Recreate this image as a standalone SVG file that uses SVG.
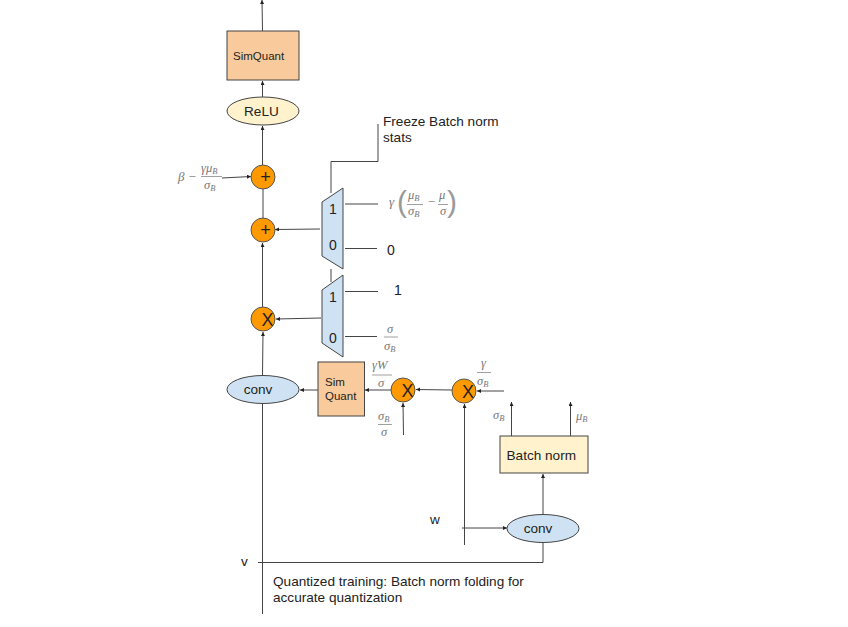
<svg xmlns="http://www.w3.org/2000/svg" width="848" height="627" viewBox="0 0 848 627">
<defs>
<marker id="a" markerWidth="5" markerHeight="5" refX="4" refY="2" orient="auto" markerUnits="userSpaceOnUse"><path d="M0 0L4 2L0 4Z" fill="#222"/></marker>
</defs>
<style>
text{font-family:"Liberation Sans",Arial,sans-serif;fill:#222}
.s{font-size:11.500px}.m{font-size:13.600px}.d{font-size:14px}
.op{font-size:18px}.x{font-size:18px}
.math{font-family:"Liberation Serif","Times New Roman",serif;fill:#777;font-style:italic;font-size:12.500px}
.paren{font-family:"Liberation Sans",sans-serif;fill:#999;font-size:30px}
.sub{font-size:8.500px}
.c line,.c path{fill:none;stroke:#444;stroke-width:1}
.o{fill:#ff9900;stroke:#555;stroke-width:1}
.q{fill:#f9cb9c;stroke:#444;stroke-width:1}
.b{fill:#cfe2f3;stroke:#444;stroke-width:1}
.y{fill:#fff2cc;stroke:#444;stroke-width:1}
.f{stroke:#888;stroke-width:.8}
</style>
<rect width="848" height="627" fill="#fff"/>
<g class="c" id="connectors">
<line x1="262.500" y1="31" x2="262" y2="0" marker-end="url(#a)"/>
<line x1="262.500" y1="97" x2="262.500" y2="81" marker-end="url(#a)"/>
<line x1="262.500" y1="165" x2="262.500" y2="126" marker-end="url(#a)"/>
<line x1="263" y1="218" x2="263" y2="189"/>
<line x1="222" y1="178" x2="251" y2="176.500" marker-end="url(#a)"/>
<line x1="320" y1="229" x2="275" y2="229.500" marker-end="url(#a)"/>
<line x1="262.500" y1="307" x2="262.500" y2="243" marker-end="url(#a)"/>
<line x1="321" y1="318" x2="276" y2="319" marker-end="url(#a)"/>
<line x1="262.500" y1="375" x2="263" y2="332" marker-end="url(#a)"/>
<line x1="262.500" y1="403" x2="262.500" y2="614"/>
<line x1="318" y1="390" x2="300" y2="390" marker-end="url(#a)"/>
<line x1="391" y1="390" x2="365" y2="390" marker-end="url(#a)"/>
<line x1="452" y1="390" x2="416" y2="389.500" marker-end="url(#a)"/>
<line x1="504" y1="391" x2="477" y2="391" marker-end="url(#a)"/>
<line x1="403.500" y1="435" x2="403" y2="403" marker-end="url(#a)"/>
<line x1="464.500" y1="545" x2="464.500" y2="404" marker-end="url(#a)"/>
<line x1="462" y1="528" x2="507" y2="528" marker-end="url(#a)"/>
<line x1="543" y1="514" x2="543" y2="474" marker-end="url(#a)"/>
<path d="M543 542V562.500H258"/>
<line x1="511.500" y1="436" x2="511.500" y2="402" marker-end="url(#a)"/>
<line x1="570.500" y1="436" x2="570.500" y2="402" marker-end="url(#a)"/>
<path d="M331 193V161.500H378V124"/>
<line x1="331" y1="269" x2="331" y2="282"/>
<line x1="345" y1="204" x2="378" y2="204"/>
<line x1="345" y1="248.500" x2="377" y2="248.500"/>
<line x1="345" y1="291.500" x2="378" y2="291.500"/>
<line x1="345" y1="336.500" x2="377" y2="336.500"/>
</g>
<g id="simquant-top"><rect class="q" x="227" y="31" width="72" height="49"/><text class="s" x="233" y="60">SimQuant</text></g>
<g id="relu"><ellipse class="y" cx="263" cy="111" rx="36" ry="14"/><text class="m" x="244" y="116">ReLU</text></g>
<g id="plus-top"><circle class="o" cx="263" cy="177" r="12"/><text class="op" x="265.500" y="183" text-anchor="middle">+</text></g>
<g id="plus-bottom"><circle class="o" cx="263" cy="230" r="12"/><text class="op" x="265.500" y="236" text-anchor="middle">+</text></g>
<g id="times-main"><circle class="o" cx="263" cy="319" r="12"/><text class="x" x="267.500" y="326" text-anchor="middle">X</text></g>
<g id="mux-top"><path class="b" d="M322 202L343 188V269L322 256Z"/><text class="d" x="333" y="214" text-anchor="middle">1</text><text class="d" x="333" y="250" text-anchor="middle">0</text></g>
<g id="mux-bottom"><path class="b" d="M322 290L343 275V357L322 343Z"/><text class="d" x="333" y="302" text-anchor="middle">1</text><text class="d" x="333" y="343" text-anchor="middle">0</text></g>
<g id="conv-main"><ellipse class="b" cx="263" cy="389.500" rx="36" ry="14"/><text class="m" x="258" y="394" text-anchor="middle">conv</text></g>
<g id="simquant-mid"><rect class="q" x="318" y="362" width="46.500" height="54"/><text class="s" x="325" y="386">Sim</text><text class="s" x="325" y="400">Quant</text></g>
<g id="times-1"><circle class="o" cx="403" cy="390" r="12"/><text class="x" x="407.500" y="397" text-anchor="middle">X</text></g>
<g id="times-2"><circle class="o" cx="464" cy="391" r="12"/><text class="x" x="468" y="398" text-anchor="middle">X</text></g>
<g id="batch-norm"><rect class="y" x="500" y="436" width="88" height="37"/><text class="m" x="506.500" y="460">Batch norm</text></g>
<g id="conv-side"><ellipse class="b" cx="543" cy="528.500" rx="36" ry="14"/><text class="m" x="538" y="533" text-anchor="middle">conv</text></g>
<g id="labels">
<text class="m" x="383" y="126">Freeze Batch norm</text>
<text class="m" x="383" y="142">stats</text>
<text class="d" x="387" y="255">0</text>
<text class="d" x="394" y="295">1</text>
<text class="m" x="430" y="524">w</text>
<text class="m" x="241" y="566">v</text>
<text class="m" x="273" y="586">Quantized training: Batch norm folding for</text>
<text class="m" x="273" y="602">accurate quantization</text>
<text class="math" x="178" y="181" style="font-size:13px">β −</text>
<text class="math" x="201" y="172">γμ<tspan class="sub" dy="1.500">B</tspan></text>
<line class="f" x1="201" y1="176.500" x2="222" y2="176.500"/>
<text class="math" x="204" y="189">σ<tspan class="sub" dy="1.500">B</tspan></text>
<text class="math" x="389" y="206" style="font-size:13px">γ</text>
<text class="paren" x="397" y="212">(</text>
<text class="math" x="408" y="199">μ<tspan class="sub" dy="1.500">B</tspan></text>
<line class="f" x1="407" y1="204.500" x2="423" y2="204.500"/>
<text class="math" x="408" y="215">σ<tspan class="sub" dy="1.500">B</tspan></text>
<text class="math" x="427" y="206" style="font-size:13px">−</text>
<text class="math" x="439" y="199">μ</text>
<line class="f" x1="438" y1="204.500" x2="448" y2="204.500"/>
<text class="math" x="440" y="215">σ</text>
<text class="paren" x="447" y="212">)</text>
<text class="math" x="387" y="333">σ</text>
<line class="f" x1="384" y1="337" x2="398" y2="337"/>
<text class="math" x="384" y="350">σ<tspan class="sub" dy="1.500">B</tspan></text>
<text class="math" x="372" y="369">γW</text>
<line class="f" x1="372" y1="375" x2="392" y2="375"/>
<text class="math" x="378" y="387">σ</text>
<text class="math" x="378" y="420">σ<tspan class="sub" dy="1.500">B</tspan></text>
<line class="f" x1="378" y1="424.500" x2="392" y2="424.500"/>
<text class="math" x="381" y="436">σ</text>
<text class="math" x="481" y="367">γ</text>
<line class="f" x1="477" y1="372.500" x2="491" y2="372.500"/>
<text class="math" x="477" y="385">σ<tspan class="sub" dy="1.500">B</tspan></text>
<text class="math" x="493" y="419">σ<tspan class="sub" dy="1.500">B</tspan></text>
<text class="math" x="576" y="420">μ<tspan class="sub" dy="1.500">B</tspan></text>
</g>
</svg>
